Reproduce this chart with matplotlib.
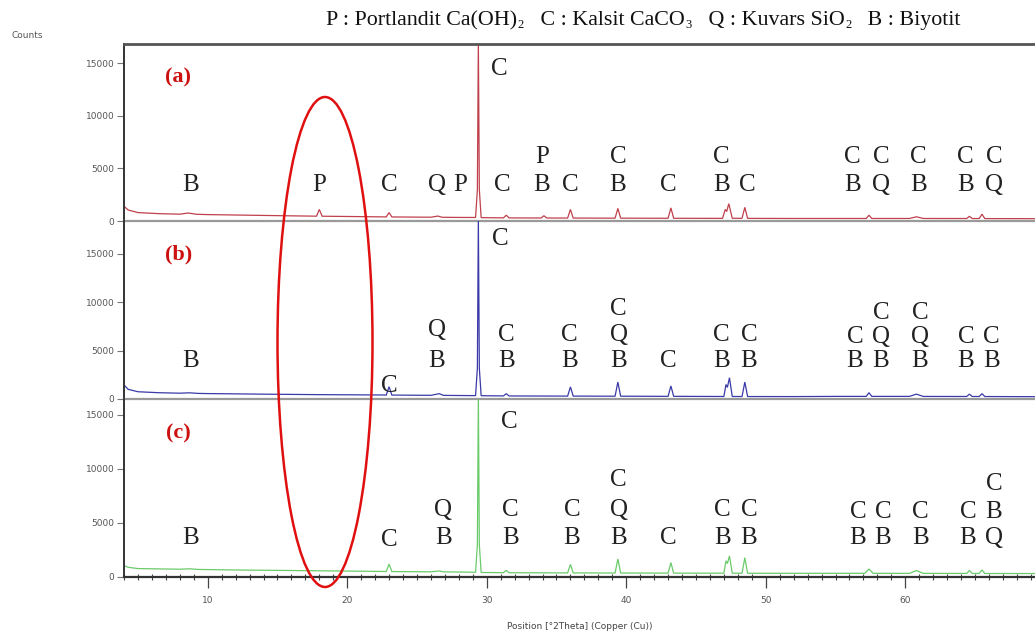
import matplotlib
matplotlib.use("Agg")
import matplotlib.pyplot as plt
from matplotlib.patches import Ellipse
from matplotlib.ticker import MultipleLocator

# ---------------- data ----------------
a_x = [4.0, 4.3, 5.0, 6.5, 8.0, 8.6, 9.2, 10.0, 12.0, 14.0, 16.0, 17.8, 18.0, 18.2, 20.0, 22.0, 22.8, 23.0, 23.2,
       26.0, 26.5, 26.8, 28.0, 29.2, 29.33, 29.4, 29.47, 29.6, 31.2, 31.4, 31.6, 33.9, 34.1, 34.3, 35.8, 36.0, 36.2,
       39.2, 39.4, 39.6, 43.0, 43.2, 43.4, 46.9, 47.1, 47.2, 47.35, 47.6, 48.3, 48.5, 48.7, 52.0, 57.2, 57.4, 57.6,
       60.3, 60.8, 61.3, 64.4, 64.6, 64.8, 65.3, 65.5, 65.7, 69.3]
a_y = [1400, 1050, 800, 700, 650, 760, 640, 610, 570, 530, 490, 460, 1100, 455, 430, 400, 390, 800, 385,
       360, 470, 355, 340, 335, 3000, 17200, 3000, 320, 300, 550, 295, 285, 500, 285, 280, 1100, 280,
       270, 1200, 270, 260, 1250, 260, 250, 1100, 900, 1650, 260, 255, 1300, 250, 240, 240, 550, 240,
       240, 400, 240, 235, 450, 235, 235, 650, 230, 220]

b_x = [4.0, 4.3, 5.0, 6.5, 8.0, 8.7, 9.3, 10.0, 14.0, 18.0, 22.0, 22.8, 23.0, 23.2, 26.0, 26.6, 26.9, 28.0,
       29.2, 29.33, 29.4, 29.47, 29.6, 31.2, 31.4, 31.6, 35.8, 36.0, 36.2, 39.2, 39.4, 39.6, 43.0, 43.2, 43.4,
       47.0, 47.15, 47.25, 47.4, 47.6, 48.3, 48.5, 48.7, 52.0, 55.0, 57.2, 57.4, 57.6, 60.3, 60.8, 61.3,
       64.4, 64.6, 64.8, 65.3, 65.5, 65.7, 69.3]
b_y = [1450, 1000, 750, 650, 600, 640, 580, 560, 500, 450, 420, 410, 1270, 405, 380, 550, 375, 360,
       350, 3200, 18800, 3200, 340, 320, 550, 315, 300, 1250, 300, 290, 1750, 290, 275, 1350, 275,
       260, 1500, 1200, 2200, 260, 255, 1750, 255, 250, 270, 270, 650, 270, 270, 500, 265,
       260, 500, 260, 260, 550, 255, 240]

c_x = [4.0, 4.3, 5.0, 8.0, 8.7, 9.3, 12.0, 16.0, 20.0, 22.8, 23.0, 23.2, 26.0, 26.6, 26.9, 28.0,
       29.2, 29.33, 29.4, 29.47, 29.6, 31.2, 31.4, 31.6, 35.8, 36.0, 36.2, 39.2, 39.4, 39.6, 43.0, 43.2, 43.4,
       47.0, 47.15, 47.25, 47.4, 47.6, 48.3, 48.5, 48.7, 52.0, 57.1, 57.4, 57.7, 60.3, 60.8, 61.3,
       64.4, 64.6, 64.8, 65.3, 65.5, 65.7, 69.3]
c_y = [1050, 900, 780, 720, 760, 700, 650, 600, 550, 510, 1200, 505, 480, 560, 475, 460,
       440, 3000, 17000, 3000, 420, 400, 620, 395, 380, 1170, 380, 370, 1670, 370, 360, 1330, 360,
       350, 1500, 1250, 1950, 350, 345, 1790, 345, 340, 340, 740, 340, 335, 600, 335,
       330, 600, 330, 330, 650, 325, 320]

# phase labels: text, 2theta position, counts position
a_lab_t = ["C", "B", "P", "C", "Q", "P", "C", "P", "B", "C", "C", "B", "C", "C", "B", "C",
           "C", "B", "C", "Q", "C", "B", "C", "B", "C", "Q"]
a_lab_x = [30.9, 8.8, 18.0, 23.0, 26.4, 28.1, 31.1, 33.95, 33.95, 36.0, 39.4, 39.4, 43.05, 46.85, 46.85, 48.7,
           56.2, 56.2, 58.25, 58.25, 60.95, 60.95, 64.3, 64.3, 66.35, 66.35]
a_lab_y = [14500, 3440, 3440, 3440, 3440, 3440, 3440, 6100, 3440, 3440, 6050, 3440, 3440, 6050, 3440, 3440,
           6050, 3440, 6050, 3440, 6050, 3440, 6050, 3440, 6050, 3440]

b_lab_t = ["C", "B", "C", "Q", "B", "C", "B", "C", "B", "C", "Q", "B", "C", "C", "B", "C", "B",
           "C", "B", "C", "Q", "B", "C", "Q", "B", "C", "B", "C", "B"]
b_lab_x = [31.0, 8.8, 23.0, 26.4, 26.4, 31.4, 31.4, 35.95, 35.95, 39.45, 39.45, 39.45, 43.05, 46.85, 46.85,
           48.8, 48.8, 56.4, 56.4, 58.25, 58.25, 58.25, 61.05, 61.05, 61.05, 64.35, 64.35, 66.2, 66.2]
b_lab_y = [16500, 3930, 1300, 7100, 3930, 6650, 3930, 6650, 3930, 9300, 6600, 3930, 3930, 6650, 3930,
           6650, 3930, 6450, 3930, 8850, 6400, 3930, 8850, 6400, 3930, 6450, 3930, 6450, 3930]

c_lab_t = ["C", "B", "C", "Q", "B", "C", "B", "C", "B", "C", "Q", "B", "C", "C", "B", "C", "B",
           "C", "B", "C", "B", "C", "B", "C", "B", "C", "B", "Q"]
c_lab_x = [31.6, 8.8, 23.0, 26.9, 26.9, 31.7, 31.7, 36.1, 36.1, 39.45, 39.45, 39.45, 43.05, 46.9, 46.9,
           48.8, 48.8, 56.6, 56.6, 58.4, 58.4, 61.1, 61.1, 64.5, 64.5, 66.35, 66.35, 66.35]
c_lab_y = [14350, 3610, 3430, 6200, 3610, 6200, 3610, 6200, 3610, 9000, 6200, 3610, 3610, 6200, 3610,
           6200, 3610, 6000, 3610, 6000, 3610, 6000, 3610, 6000, 3610, 8650, 6000, 3610]

panel_names = ["(a)", "(b)", "(c)"]
panel_name_y = [13700, 14900, 13250]
y_tops = [16850, 18400, 16480]
y_ticks = [0, 5000, 10000, 15000]
x_ticks = [10, 20, 30, 40, 50, 60]

# title pieces: (text, is_subscript)
title_parts = [("P : Portlandit Ca(OH)", False), ("2", True),
               ("   C : Kalsit CaCO", False), ("3", True),
               ("   Q : Kuvars SiO", False), ("2", True),
               ("   B : Biyotit", False)]

# ---------------- figure ----------------
W, H = 1035, 644
fig = plt.figure(figsize=(W / 100, H / 100), dpi=100)
fig.patch.set_facecolor("white")

left = 124 / W
panels_px = [(44, 221), (221, 399), (399, 577)]
colors = ["#c0404c", "#3a3aa8", "#6acb6a"]
xs = [a_x, b_x, c_x]
ys = [a_y, b_y, c_y]
labs = [(a_lab_t, a_lab_x, a_lab_y), (b_lab_t, b_lab_x, b_lab_y), (c_lab_t, c_lab_x, c_lab_y)]

axes = []
for i, (top, bot) in enumerate(panels_px):
    ax = fig.add_axes([left, 1 - bot / H, 1 - left, (bot - top) / H])
    axes.append(ax)
    ax.plot(xs[i], ys[i], color=colors[i], lw=0.9, solid_joinstyle="miter")
    ax.set_xlim(4.0, 69.3)
    ax.set_ylim(0, y_tops[i])
    ax.set_yticks(y_ticks)
    ax.set_yticklabels([str(v) for v in y_ticks])
    ax.tick_params(axis="y", direction="out", length=5, width=0.8, color="#777777",
                   labelsize=6.5, labelcolor="#555555", pad=2)
    ax.spines["right"].set_visible(False)
    ax.spines["left"].set_color("#333333")
    ax.spines["left"].set_linewidth(1.4)
    if i == 0:
        ax.spines["top"].set_color("#555555")
        ax.spines["top"].set_linewidth(2.0)
    else:
        ax.spines["top"].set_visible(False)
    if i < 2:
        ax.spines["bottom"].set_color("#9a9a9a")
        ax.spines["bottom"].set_linewidth(1.6)
        ax.set_xticks([])
    else:
        ax.spines["bottom"].set_color("#333333")
        ax.spines["bottom"].set_linewidth(1.6)
        ax.set_xticks(x_ticks)
        ax.xaxis.set_minor_locator(MultipleLocator(1))
        ax.tick_params(axis="x", which="major", direction="out", length=8, width=0.9,
                       color="#444444", labelsize=6.5, labelcolor="#555555", pad=6)
        ax.tick_params(axis="x", which="minor", direction="inout", length=5, width=0.8,
                       color="#444444")
        ax.set_xlabel("Position [°2Theta] (Copper (Cu))", fontsize=6.5, color="#444444",
                      labelpad=12)
    ax.patch.set_alpha(0)

    t, lx, ly = labs[i]
    for s, xx, yy in zip(t, lx, ly):
        ax.text(xx, yy, s, ha="center", va="center", fontsize=18,
                family="Liberation Serif", color="#222222")
    ax.text(7.9, panel_name_y[i], panel_names[i], ha="center", va="center", fontsize=16,
            family="Liberation Serif", fontweight="bold", color="#cc1111")

# title built from pieces so the subscripts are small and low
y_base = 1 - 25 / H
prev = fig.text(326 / W, y_base, title_parts[0][0], ha="left", va="baseline",
                fontsize=15.8, family="Liberation Serif", color="#111111")
for txt, sub in title_parts[1:]:
    prev = axes[0].annotate(txt, xy=(1, y_base), xycoords=(prev, "figure fraction"),
                            xytext=(0.5, -2.5) if sub else (0, 0), textcoords="offset points",
                            ha="left", va="baseline", fontsize=9 if sub else 15.8,
                            family="Liberation Serif", color="#111111",
                            annotation_clip=False)

fig.text(12 / W, 1 - 35 / H, "Counts", ha="left", va="center", fontsize=6.5, color="#555555")

ell = Ellipse((3.25, (H - 342) / 100), 0.95, 4.90, transform=fig.dpi_scale_trans,
              fill=False, edgecolor="#e01010", lw=1.8, zorder=10)
fig.add_artist(ell)

fig.savefig("out.png", dpi=100)
